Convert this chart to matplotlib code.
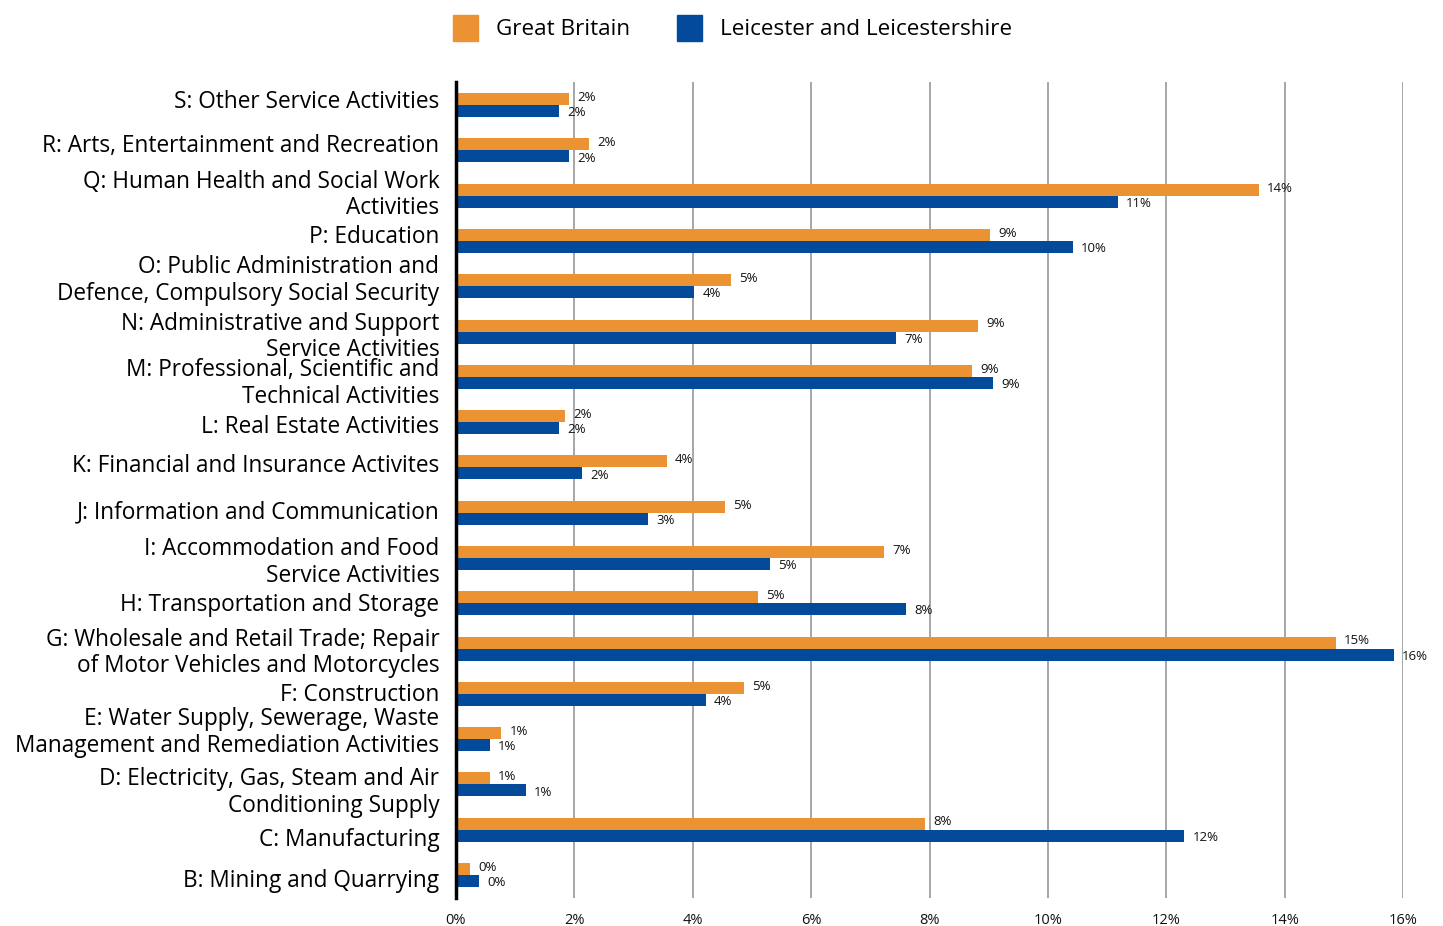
import matplotlib.pyplot as plt
import matplotlib.patches as mpatches
from matplotlib.transforms import ScaledTranslation
import numpy as np

plt.rcParams['font.family'] = ['Open Sans', 'DejaVu Sans']

# industry sections, bottom to top
sectors = [
    'B: Mining and Quarrying',
    'C: Manufacturing',
    'D: Electricity, Gas, Steam and Air\nConditioning Supply',
    'E: Water Supply, Sewerage, Waste\nManagement and Remediation Activities',
    'F: Construction',
    'G: Wholesale and Retail Trade; Repair\nof Motor Vehicles and Motorcycles',
    'H: Transportation and Storage',
    'I: Accommodation and Food\nService Activities',
    'J: Information and Communication',
    'K: Financial and Insurance Activites',
    'L: Real Estate Activities',
    'M: Professional, Scientific and\nTechnical Activities',
    'N: Administrative and Support\nService Activities',
    'O: Public Administration and\nDefence, Compulsory Social Security',
    'P: Education',
    'Q: Human Health and Social Work\nActivities',
    'R: Arts, Entertainment and Recreation',
    'S: Other Service Activities',
]

# share of employment, %
great_britain = [0.24, 7.92, 0.57, 0.76, 4.86, 14.86, 5.10, 7.23, 4.54, 3.56,
                 1.84, 8.72, 8.82, 4.65, 9.02, 13.56, 2.25, 1.91]
leicester = [0.39, 12.30, 1.18, 0.57, 4.22, 15.84, 7.60, 5.30, 3.24, 2.13,
             1.74, 9.07, 7.43, 4.02, 10.42, 11.18, 1.91, 1.74]

series_names = ['Great Britain', 'Leicester and Leicestershire']
orange = '#EB9232'
blue = '#034A9B'

# vertical nudge of each sector label in pixels (down is positive)
label_nudge = [3, 7, 4, -11, -2, 0, -1, 0, -3, -4, 2, 2, 1, -10, -7, -5, -7, -6]

fig = plt.figure(figsize=(14.43, 9.26), dpi=100)
ax = fig.add_axes([0.316, 0.0302, 0.6563, 0.8812])

y = np.arange(len(sectors))
h = 0.265
ax.barh(y + h / 2, great_britain, height=h, color=orange, zorder=3)
ax.barh(y - h / 2, leicester, height=h, color=blue, zorder=3)

# value labels, pushed slightly apart so the pair doesn't collide
for yi, v in zip(y, great_britain):
    ax.annotate(f'{v:.0f}%', (v, yi + h / 2), xytext=(6, 1.2), textcoords='offset points',
                va='center', ha='left', fontsize=9.5, color='#111111', zorder=4)
for yi, v in zip(y, leicester):
    ax.annotate(f'{v:.0f}%', (v, yi - h / 2), xytext=(6, -1.2), textcoords='offset points',
                va='center', ha='left', fontsize=9.5, color='#111111', zorder=4)

ax.set_xlim(0, 16)
ax.set_ylim(-0.51, len(sectors) - 0.49)
ax.set_xticks(np.arange(0, 17, 2))
ax.set_xticklabels([f'{t}%' for t in range(0, 17, 2)])
ax.set_yticks(y)
ax.set_yticklabels(sectors, fontsize=16.3, linespacing=1.15, color='black')
ax.tick_params(axis='x', length=0, pad=11, labelsize=10.5, labelcolor='#111111')
ax.tick_params(axis='y', length=0, pad=12)
ax.grid(axis='x', color='#A6A6A6', linewidth=1.4, zorder=0)

for lab, dy in zip(ax.get_yticklabels(), label_nudge):
    lab.set_transform(lab.get_transform() + ScaledTranslation(0, -dy / 100, fig.dpi_scale_trans))

for side in ['top', 'right', 'bottom']:
    ax.spines[side].set_visible(False)
ax.spines['left'].set_linewidth(2.5)
ax.spines['left'].set_color('black')
ax.spines['left'].set_zorder(5)

handles = [mpatches.Patch(color=orange), mpatches.Patch(color=blue)]
fig.legend(handles, series_names, loc='upper center', bbox_to_anchor=(0.5076, 1.006),
           ncol=2, frameon=False, fontsize=16.2, handlelength=1.11, handleheight=1.4,
           columnspacing=2.05, handletextpad=0.8)

fig.savefig('out.png', dpi=100)
